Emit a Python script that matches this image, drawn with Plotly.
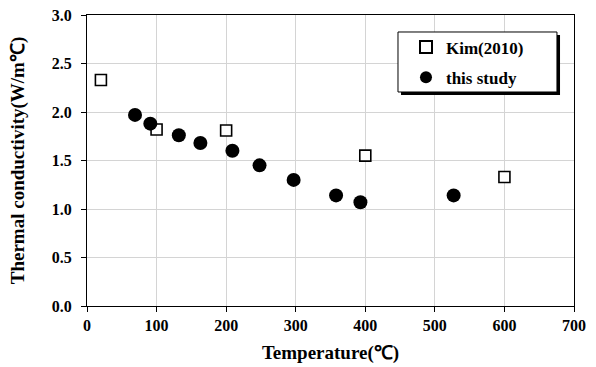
import plotly.graph_objects as go

kim_temp = [20, 100, 200, 400, 600]
kim_k = [2.33, 1.82, 1.81, 1.55, 1.33]
study_temp = [69, 91, 132, 163, 209, 248, 297, 358, 393, 527]
study_k = [1.97, 1.88, 1.76, 1.68, 1.60, 1.45, 1.30, 1.14, 1.07, 1.14]

x_ticks = [0, 100, 200, 300, 400, 500, 600, 700]
y_ticks = [0.0, 0.5, 1.0, 1.5, 2.0, 2.5, 3.0]

FONT = "Liberation Serif"

fig = go.Figure()
fig.add_trace(go.Scatter(
    x=kim_temp, y=kim_k, mode="markers", name="Kim(2010)", legendgroup="a",
    marker=dict(symbol="square", size=11, color="white", line=dict(color="black", width=1.6)),
))
fig.add_trace(go.Scatter(
    x=study_temp, y=study_k, mode="markers", name="this study", legendgroup="b",
    marker=dict(symbol="circle", size=14, color="black", line=dict(color="black", width=0)),
))

axis_common = dict(
    showline=True, linecolor="black", linewidth=1, mirror=True,
    ticks="outside", ticklen=5, tickcolor="black", tickwidth=1,
    showgrid=True, gridcolor="#d4d4d4", gridwidth=1, zeroline=False,
    automargin=False,
    tickfont=dict(family=FONT, size=16, color="black", weight="bold"),
)

fig.update_layout(
    width=596, height=367,
    margin=dict(l=87, r=22, t=15, b=61),
    paper_bgcolor="white", plot_bgcolor="white",
    font=dict(family=FONT, color="black"),
    xaxis=dict(range=[0, 700], tickvals=x_ticks, ticktext=[str(v) for v in x_ticks],
               title=dict(text="Temperature(℃)", font=dict(family=FONT, size=19, weight="bold"), standoff=12),
               **axis_common),
    yaxis=dict(range=[0, 3.0], tickvals=y_ticks, ticktext=[f"{v:.1f}" for v in y_ticks],
               ticklabelstandoff=6,
               title=dict(text="Thermal conductivity(W/m℃)", font=dict(family=FONT, size=19, weight="bold"), standoff=22),
               **axis_common),
    showlegend=True,
    legend=dict(
        x=0.655, y=0.95, xanchor="left", yanchor="top",
        bgcolor="rgba(0,0,0,0)", borderwidth=0,
        font=dict(family=FONT, size=17, color="black", weight="bold"),
        tracegroupgap=5, itemwidth=30, itemsizing="constant",
    ),
    shapes=[
        dict(type="rect", xref="paper", yref="paper", x0=0.6448, x1=0.9713, y0=0.725, y1=0.931,
             fillcolor="black", line=dict(width=0), layer="above"),
        dict(type="rect", xref="paper", yref="paper", x0=0.6386, x1=0.965, y0=0.7354, y1=0.9416,
             fillcolor="white", line=dict(color="black", width=1), layer="above"),
    ],
)

fig.write_html("out.html", config={"displayModeBar": False},
               post_script="document.body.style.margin='0px';document.body.style.overflow='hidden';")
